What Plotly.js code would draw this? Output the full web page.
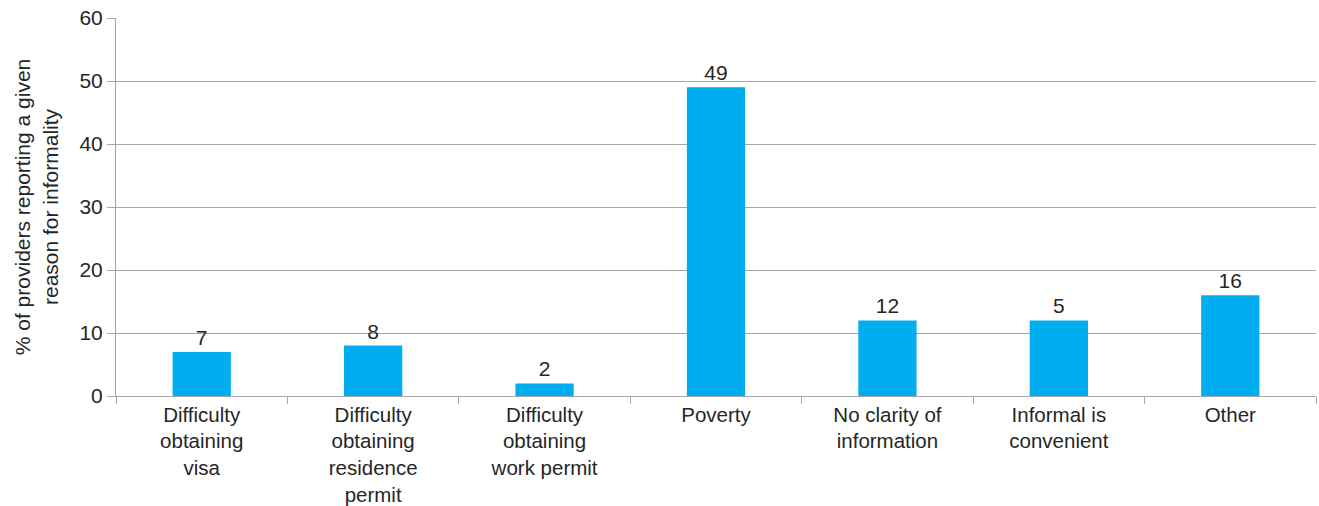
<!DOCTYPE html>
<html>
<head>
<meta charset="utf-8">
<script src="https://cdn.plot.ly/plotly-3.0.1.min.js"></script>
<style>html,body{margin:0;padding:0;background:#fff;}#chart{width:1319px;height:506px;}</style>
</head>
<body>
<div id="chart"></div>
<script>
const categories = [
  "Difficulty<br>obtaining<br>visa",
  "Difficulty<br>obtaining<br>residence<br>permit",
  "Difficulty<br>obtaining<br>work permit",
  "Poverty",
  "No clarity of<br>information",
  "Informal is<br>convenient",
  "Other"
];
const barValues = [7, 8, 2, 49, 12, 12, 16];
const barLabels = ["7", "8", "2", "49", "12", "5", "16"];
const yTickValues = [0, 10, 20, 30, 40, 50, 60];

const fontFam = "Liberation Sans, Arial, sans-serif";
const textColor = "#262626";
const gridColor = "#a6a6a6";

Plotly.newPlot("chart", [{
  type: "bar",
  x: categories,
  y: barValues,
  text: barLabels,
  textposition: "outside",
  cliponaxis: false,
  textfont: {family: fontFam, size: 21, color: textColor},
  marker: {color: "#00aeef"},
  width: 0.34,
  hoverinfo: "none"
}], {
  width: 1319, height: 506,
  margin: {l: 116, r: 3, t: 18, b: 110},
  paper_bgcolor: "#fff", plot_bgcolor: "#fff",
  showlegend: false,
  font: {family: fontFam, color: textColor},
  xaxis: {
    type: "category",
    showline: true, linecolor: gridColor, linewidth: 1,
    ticks: "outside", tickson: "boundaries", ticklen: 7, tickcolor: gridColor,
    tickfont: {family: fontFam, size: 20.5, color: textColor},
    showgrid: false, zeroline: false,
    fixedrange: true
  },
  yaxis: {
    range: [0, 60],
    tickvals: yTickValues,
    ticktext: yTickValues.map(String),
    showline: true, linecolor: gridColor, linewidth: 1,
    ticks: "outside", ticklen: 8, tickcolor: gridColor,
    tickfont: {family: fontFam, size: 21, color: textColor},
    showgrid: true, gridcolor: gridColor, gridwidth: 1,
    zeroline: false,
    title: {text: "% of providers reporting a given<br>reason for informality",
            font: {family: fontFam, size: 21, color: textColor}, standoff: 15},
    fixedrange: true
  }
}, {displayModeBar: false, staticPlot: true});
</script>
</body>
</html>
